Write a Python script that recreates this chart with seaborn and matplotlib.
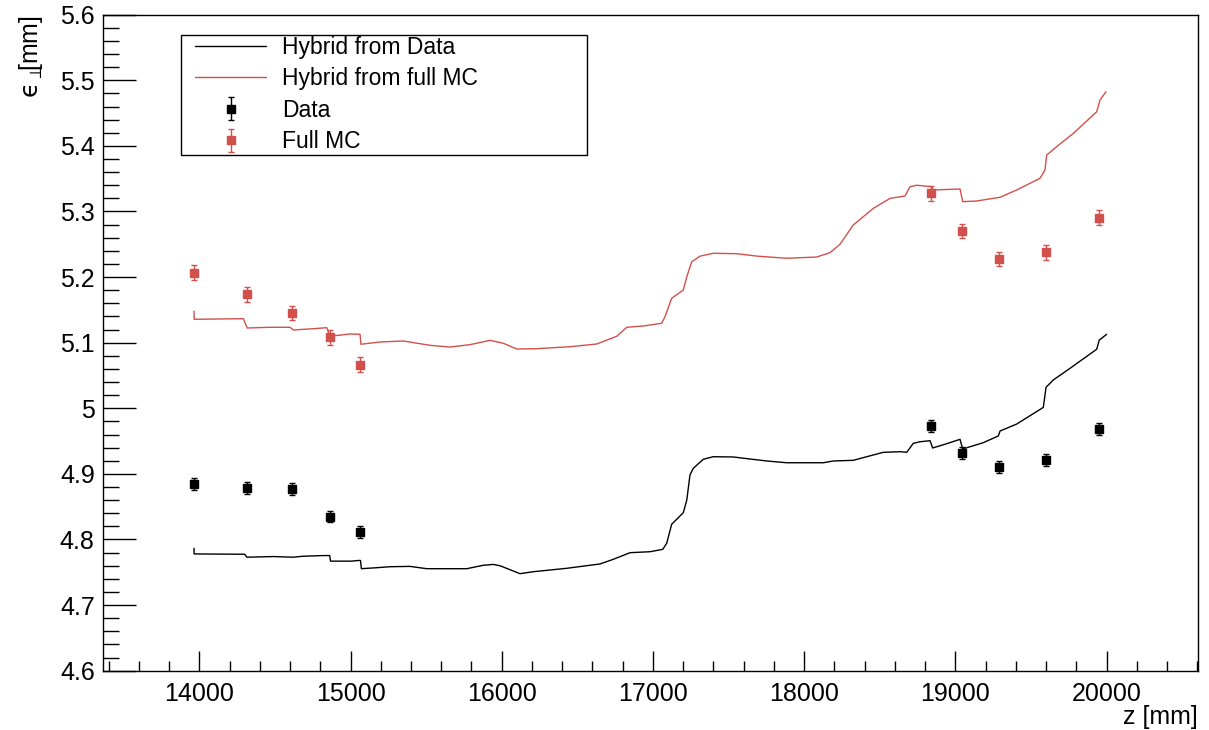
import numpy as np
import pandas as pd
import matplotlib
matplotlib.use("Agg")
import matplotlib.pyplot as plt
from matplotlib.ticker import MultipleLocator, FuncFormatter
from matplotlib.lines import Line2D
from matplotlib.patches import Rectangle
import seaborn as sns

# ---------------- data ----------------
point_z = [13965, 14313, 14612, 14865, 15064, 18842, 19044, 19292, 19598, 19948]
data_eps = [4.8846, 4.878, 4.8765, 4.835, 4.811, 4.9726, 4.9319, 4.911, 4.9212, 4.968]
data_err = [0.009, 0.009, 0.009, 0.009, 0.009, 0.009, 0.009, 0.009, 0.009, 0.009]
mc_eps = [5.2067, 5.1738, 5.1453, 5.1082, 5.0665, 5.3277, 5.2707, 5.2276, 5.2378, 5.2906]
mc_err = [0.011, 0.011, 0.011, 0.011, 0.011, 0.011, 0.011, 0.011, 0.011, 0.011]

hyb_data_z = [13965, 13966, 14300, 14315, 14489, 14622, 14686, 14820, 14862, 14868,
              15008, 15050, 15066, 15072, 15173, 15261, 15394, 15504, 15769, 15878,
              15944, 15989, 16121, 16209, 16430, 16650, 16738, 16849, 16982, 17065,
              17091, 17124, 17201, 17224, 17245, 17267, 17333, 17399, 17532, 17642,
              17753, 17885, 18127, 18193, 18325, 18414, 18524, 18634, 18679, 18722,
              18767, 18833, 18850, 18943, 19031, 19049, 19185, 19284, 19296, 19406,
              19582, 19600, 19648, 19759, 19935, 19952, 20001]
hyb_data_eps = [4.7866, 4.778, 4.7775, 4.773, 4.774, 4.773, 4.7745, 4.7755, 4.7755, 4.767,
                4.767, 4.768, 4.768, 4.7555, 4.757, 4.7585, 4.759, 4.7555, 4.7555, 4.7607,
                4.762, 4.760, 4.7479, 4.7509, 4.7561, 4.7627, 4.7698, 4.7799, 4.7814, 4.785,
                4.7942, 4.8232, 4.8409, 4.8602, 4.8983, 4.9085, 4.9223, 4.9262, 4.9258, 4.9227,
                4.9197, 4.917, 4.917, 4.9197, 4.9207, 4.9262, 4.9329, 4.9338, 4.933, 4.9466,
                4.949, 4.9506, 4.9395, 4.946, 4.9527, 4.938, 4.9476, 4.9578, 4.9654, 4.976,
                5.0014, 5.032, 5.0432, 5.061, 5.09, 5.104, 5.1128]

hyb_mc_z = [13965, 13966, 14291, 14317, 14468, 14600, 14622, 14754, 14843, 14864,
            14997, 15063, 15069, 15195, 15349, 15526, 15658, 15790, 15923, 16011,
            16099, 16231, 16452, 16628, 16761, 16827, 16937, 17058, 17080, 17124,
            17201, 17224, 17257, 17312, 17400, 17554, 17687, 17885, 18083, 18171,
            18237, 18325, 18458, 18568, 18667, 18700, 18745, 18844, 18855, 19031,
            19049, 19141, 19296, 19406, 19560, 19593, 19604, 19670, 19780, 19935,
            19957, 19997]
hyb_mc_eps = [5.1483, 5.1357, 5.1366, 5.1224, 5.1235, 5.1235, 5.1194, 5.1213, 5.1229, 5.1098,
              5.1133, 5.1128, 5.0976, 5.1011, 5.1026, 5.096, 5.0934, 5.097, 5.1036, 5.0991,
              5.0904, 5.0909, 5.0939, 5.098, 5.1098, 5.1235, 5.1255, 5.1296, 5.1396, 5.1677,
              5.1804, 5.2006, 5.2235, 5.232, 5.2363, 5.2357, 5.232, 5.2287, 5.2306, 5.2372,
              5.250, 5.2794, 5.3049, 5.32, 5.3236, 5.3378, 5.340, 5.3378, 5.3328, 5.3343,
              5.315, 5.316, 5.3217, 5.3328, 5.3506, 5.3633, 5.386, 5.3988, 5.419, 5.452,
              5.47, 5.4826]

labels = ["Hybrid from Data", "Hybrid from full MC", "Data", "Full MC"]
x_label = "z [mm]"
y_label = r"$\mathrm{ϵ}_{\perp}\!\!$[mm]"

# ---------------- style ----------------
sns.set_style("white")
plt.rcParams["font.family"] = ["Liberation Sans", "DejaVu Sans"]
plt.rcParams["mathtext.fontset"] = "dejavusans"
plt.rcParams["text.color"] = "black"
plt.rcParams["axes.labelcolor"] = "black"
plt.rcParams["xtick.color"] = "black"
plt.rcParams["ytick.color"] = "black"

BLACK = "#000000"
RED = "#d2504b"

fig = plt.figure(figsize=(12.09, 7.30), dpi=100)
ax = fig.add_axes([103 / 1209, (730 - 670.7) / 730, (1198 - 103) / 1209, (670.7 - 14.7) / 730])

df_data = pd.DataFrame({"z": hyb_data_z, "eps": hyb_data_eps})
df_mc = pd.DataFrame({"z": hyb_mc_z, "eps": hyb_mc_eps})

sns.lineplot(data=df_data, x="z", y="eps", sort=False, estimator=None,
             color=BLACK, lw=1.0, ax=ax)
sns.lineplot(data=df_mc, x="z", y="eps", sort=False, estimator=None,
             color=RED, lw=1.0, ax=ax)

eb_data = ax.errorbar(point_z, data_eps, yerr=data_err, fmt="s", color=BLACK,
                      ms=5.5, capsize=2.2, elinewidth=1, capthick=1)
eb_mc = ax.errorbar(point_z, mc_eps, yerr=mc_err, fmt="s", color=RED,
                    ms=5.5, capsize=2.2, elinewidth=1, capthick=1)

ax.set_xlim(13363, 20605)
ax.set_ylim(4.6, 5.6)

ax.xaxis.set_major_locator(MultipleLocator(1000))
ax.xaxis.set_minor_locator(MultipleLocator(200))
ax.yaxis.set_major_locator(MultipleLocator(0.1))
ax.yaxis.set_minor_locator(MultipleLocator(0.02))
ax.xaxis.set_major_formatter(FuncFormatter(lambda v, p: f"{v:.0f}"))
ax.yaxis.set_major_formatter(FuncFormatter(lambda v, p: f"{round(v, 2):g}"))

ax.tick_params(axis="both", which="both", bottom=True, left=True, top=False, right=False)
ax.tick_params(axis="x", which="major", direction="in", length=14.4, width=1,
               labelsize=18, pad=8, color=BLACK, labelcolor=BLACK)
ax.tick_params(axis="x", which="minor", direction="in", length=7.2, width=1, color=BLACK)
ax.tick_params(axis="y", which="major", direction="in", length=23.5, width=1,
               labelsize=18, pad=6, color=BLACK, labelcolor=BLACK)
ax.tick_params(axis="y", which="minor", direction="in", length=11.8, width=1, color=BLACK)

for s in ax.spines.values():
    s.set_color(BLACK)
    s.set_linewidth(1.0)

ax.set_xlabel(x_label, fontsize=18, loc="right", color=BLACK)
ax.xaxis.set_label_coords(1.0, -0.052)
ax.set_ylabel(y_label, fontsize=18, loc="top", color=BLACK)
ax.yaxis.set_label_coords(-0.053, 1.0)

# legend frame drawn manually (ROOT style box)
ax.add_patch(Rectangle((0.0712, 0.786), 0.3708, 0.183, transform=ax.transAxes,
                       facecolor="white", edgecolor=BLACK, lw=1.0, zorder=4))
handles = [Line2D([], [], color=BLACK, lw=1.0),
           Line2D([], [], color=RED, lw=1.0),
           eb_data, eb_mc]
leg = ax.legend(handles, labels, loc="upper left",
                bbox_to_anchor=(0.084, 0.968),
                fontsize=16.5, frameon=False,
                handlelength=3.1, handletextpad=0.7, borderpad=0.0,
                labelspacing=0.37, borderaxespad=0.0)
leg.set_zorder(5)
for t in leg.get_texts():
    t.set_color(BLACK)

fig.savefig("out.png", dpi=100, facecolor="white")
